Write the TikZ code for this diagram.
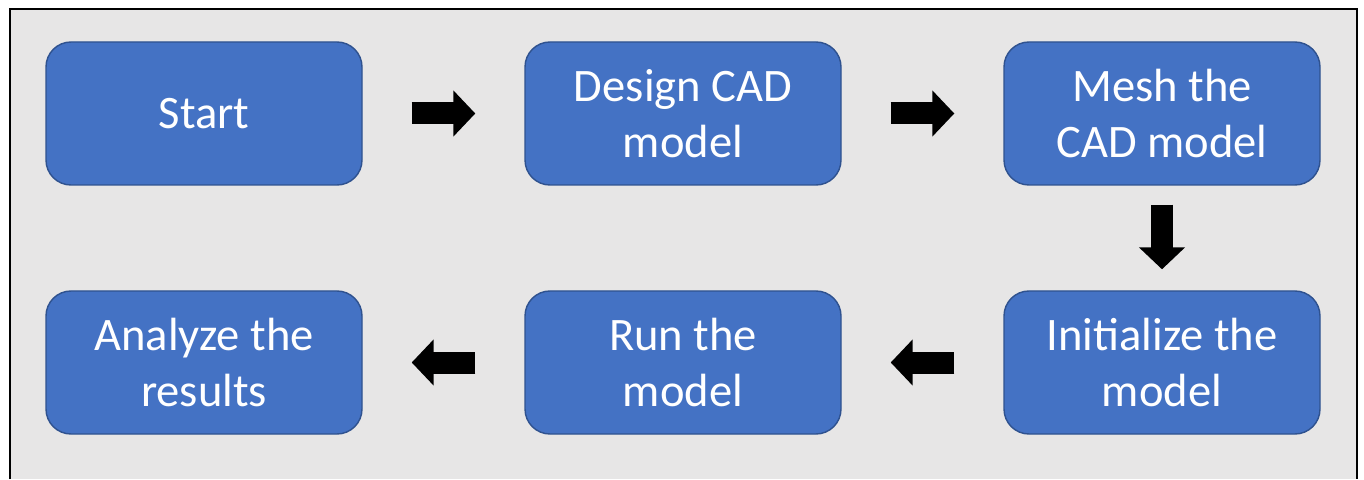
\documentclass[tikz,border=0pt]{standalone}
\usepackage{fontspec}
\setmainfont{Carlito}
\usetikzlibrary{arrows.meta}
\definecolor{panelgray}{HTML}{E7E6E6}
\definecolor{boxblue}{HTML}{4472C4}
\definecolor{boxedge}{HTML}{2F528F}
\tikzset{
  stepbox/.style={draw=boxedge, line width=.8pt, fill=boxblue, rounded corners=.5cm, minimum width=6.32cm, minimum height=2.86cm, align=center, text=white, font=\fontsize{26.5}{32}\selectfont},
  blockarrow/.style={line width=.44cm, -{Triangle[width=.9cm, length=.44cm]}, shorten <=.98cm, shorten >=.98cm}
}

\begin{document}
\begin{tikzpicture}
\useasboundingbox (0,0) rectangle (27.28,9.58);
\fill[white] (0,0) rectangle (27.28,9.58);
\fill[panelgray] (0.2,0) rectangle (27.14,9.4);
\draw[line width=.04cm] (0.2,0) -- (0.2,9.4) -- (27.14,9.4) -- (27.14,0);
\node[stepbox] (start) at (4.08,7.31) {Start};
\node[stepbox] (design) at (13.66,7.31) {Design CAD\\model};
\node[stepbox] (mesh) at (23.24,7.31) {Mesh the\\CAD model};
\node[stepbox] (init) at (23.24,2.33) {Initialize the\\model};
\node[stepbox] (run) at (13.66,2.33) {Run the\\model};
\node[stepbox] (analyze) at (4.08,2.33) {Analyze the\\results};
\draw[blockarrow] (start) -- (design);
\draw[blockarrow] (design) -- (mesh);
\draw[blockarrow, shorten <=.38cm, shorten >=.42cm] (mesh) -- (init);
\draw[blockarrow] (init) -- (run);
\draw[blockarrow] (run) -- (analyze);
\end{tikzpicture}
\end{document}
